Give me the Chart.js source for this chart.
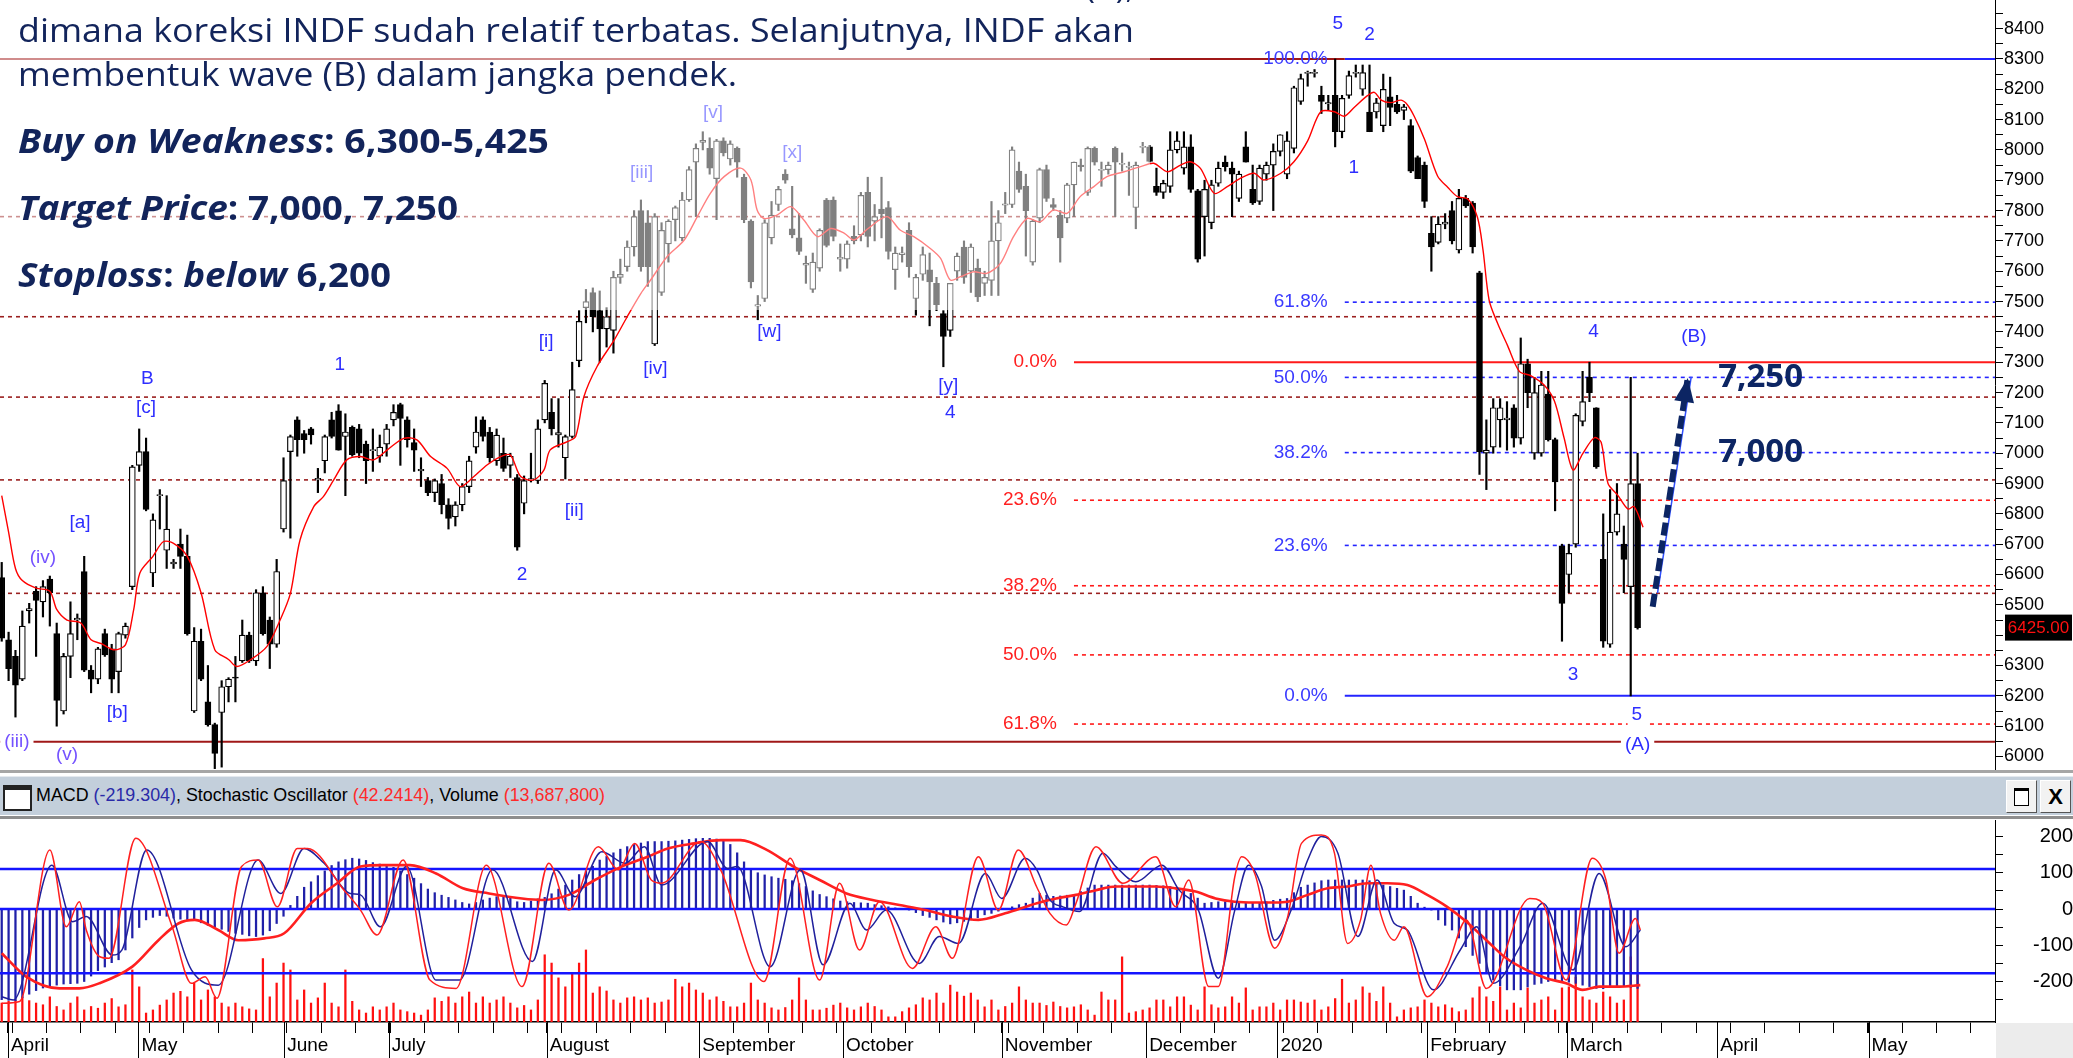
<!DOCTYPE html>
<html lang="id">
<head>
<meta charset="utf-8">
<title>INDF</title>
<script src="https://cdn.jsdelivr.net/npm/chart.js@4.4.1/dist/chart.umd.min.js"></script>
<style>
  html, body { margin: 0; padding: 0; background: #fff; }
  #wrap { position: relative; width: 2073px; height: 1058px; overflow: hidden; background: #fff; }
  canvas { position: absolute; left: 0; }
  #price { top: 0; }
  #osc { top: 820px; }
  .sep1 { position: absolute; left: 0; top: 770px; width: 2073px; height: 3px; background: #a6a6a6; }
  .bar { position: absolute; left: 0; top: 776px; width: 2073px; height: 38px; background: #c3cfdb; border-top: 1px solid #e4e9ef; }
  .sep2 { position: absolute; left: 0; top: 816px; width: 2073px; height: 3px; background: #8e8e8e; }
  .bar .ico { position: absolute; left: 3px; top: 8px; width: 25px; height: 19px; background: #fff; border: 2px solid #222; border-top-width: 5px; }
  .bar .txt { position: absolute; left: 36px; top: 6px; font: 19px "Liberation Sans", Arial, sans-serif; line-height: 24px; color: #000; white-space: nowrap; transform-origin: 0 0; }
  .bar .btn { position: absolute; top: 3px; width: 29px; height: 31px; background: #f2f2f2; border: 1px solid #fff; border-right-color: #555; border-bottom-color: #555; }
  .bar .b1 { left: 2006px; }
  .bar .b2 { left: 2040px; font: bold 22px "Liberation Sans", Arial, sans-serif; text-align: center; line-height: 31px; color: #000; }
  .bar .b1 i { position: absolute; left: 7px; top: 7px; width: 13px; height: 14px; border: 1.5px solid #000; border-top-width: 3px; background: #fff; }
  .corner { position: absolute; left: 1996px; top: 1023px; width: 77px; height: 35px; background: #ececec; }
  .note { position: absolute; left: 18px; white-space: nowrap; transform-origin: 0 0; color: #12245b; font-family: "Open Sans", sans-serif; }
  .reg { font-size: 33px; line-height: 33px; }
  .bold { font-size: 34px; line-height: 34px; font-weight: 700; }
</style>
</head>
<body>
<div id="wrap">
  <canvas id="price" width="2073" height="770"></canvas>
  <div class="sep1"></div>
  <div class="bar">
    <div class="ico"></div>
    <div class="txt" data-w="569">MACD <span style="color:#2a2aa8">(-219.304)</span>, Stochastic Oscillator <span style="color:#ff2a2a">(42.2414)</span>, Volume <span style="color:#ff2a2a">(13,687,800)</span></div>
    <div class="btn b1"><i></i></div>
    <div class="btn b2">X</div>
  </div>
  <div class="sep2"></div>
  <canvas id="osc" width="2073" height="238"></canvas>
  <div class="corner"></div>

  <div class="note reg" data-right="1134" style="top:-31px">(A),</div>
  <div class="note reg" data-w="1116" style="top:13px">dimana koreksi INDF sudah relatif terbatas. Selanjutnya, INDF akan</div>
  <div class="note reg" data-w="719" style="top:57px">membentuk wave (B) dalam jangka pendek.</div>
  <div class="note bold" data-w="531" style="top:123px"><i>Buy on Weakness</i>: 6,300-5,425</div>
  <div class="note bold" data-w="440" style="top:190px"><i>Target Price</i>: 7,000, 7,250</div>
  <div class="note bold" data-w="373" style="top:257px"><i>Stoploss</i>: <i>below</i> 6,200</div>
</div>

<script>
// ---- price data (one entry per trading day, Apr 2019 - Mar 2020) ----
const open = [
  6590,6385,6330,6255,6480,6545,6510,6585,6405,6150, 6330,6450,6610,6285,6255,6405,6355,6280,6400,6560,
  6960,7005,6605,6860,6680,6635,6700,6660,6150,6380, 6180,6105,6145,6230,6262,6315,6400,6315,6540,6450,
  6370,6750,7005,7110,7065,7080,6912,6975,7110,7140, 7055,7085,7080,7030,7008,6990,7030,7110,7160,7110,
  7035,6942,6910,6870,6900,6830,6790,6830,6890,7020, 7110,7070,6975,7000,6960,6920,6835,6910,6910,7110,
  7135,7060,6985,7055,7305,7480,7530,7470,7410,7405, 7580,7615,7680,7800,7760,7360,7530,7690,7770,7710,
  7835,7960,8025,8005,7905,8030,7970,8005,7910,7765, 7485,7510,7710,7820,7920,7740,7710,7620,7540,7610,
  7835,7835,7640,7640,7715,7720,7860,7765,7805,7810, 7605,7655,7735,7510,7590,7605,7560,7460,7405,7600,
  7680,7600,7610,7560,7570,7700,7818,7820,7930,7880, 7630,7775,7935,7820,7785,7775,7885,7950,7860,8005,
  7932,7935,8005,7952,7942,7810,8008,8010,7880,7860, 7880,8000,7940,8010,7865,7780,7760,7890,7960,7940,
  7840,8010,7870,7830,7920,7950,7995,7920,8005,8160, 8252,8252,8180,8152,8180,8060,8180,8252,8200,8125,
  8125,8080,8175,8150,8130,8080,7975,7950,7725,7695, 7755,7800,7670,7840,7825,7595,7000,7020,7110,7110,
  7150,7050,7295,7000,7000,7195,7045,6695,6600,6700, 7105,7250,7150,6650,6370,6740,6700,6560,6900
];
const high = [
  6640,6410,6350,6480,6505,6560,6580,6595,6440,6340, 6510,6470,6660,6300,6360,6420,6370,6410,6440,6960,
  7080,7050,6800,6880,6860,6650,6750,6730,6425,6420, 6300,6110,6250,6260,6330,6450,6410,6550,6560,6460,
  6650,6985,7060,7120,7075,7085,6950,7060,7135,7160, 7130,7090,7095,7040,7080,7060,7095,7160,7165,7120,
  7080,6985,6920,6915,6930,6850,6840,6900,6990,7120, 7120,7085,7080,7050,7000,6930,6925,7000,7110,7240,
  7180,7180,7060,7300,7470,7540,7545,7535,7480,7600, 7640,7700,7800,7835,7800,7790,7760,7770,7815,7860,
  7945,8020,8060,8040,8035,8040,8030,8010,7920,7770, 7520,7770,7830,7880,7935,7880,7790,7650,7660,7740,
  7840,7845,7690,7700,7750,7860,7910,7820,7910,7830, 7680,7680,7760,7590,7680,7660,7580,7470,7560,7660,
  7700,7690,7640,7600,7830,7800,7860,8010,7960,7920, 7770,7940,7950,7840,7800,7890,7960,7970,8010,8010,
  7960,7960,8010,7990,7960,7960,8025,8015,7940,7900, 8060,8060,8060,8050,7870,7900,7900,7960,7980,7960,
  7930,8060,7950,7950,7960,8020,8050,8060,8210,8250, 8260,8265,8210,8180,8300,8180,8260,8280,8280,8280,
  8170,8250,8240,8180,8150,8100,7980,7960,7780,7780, 7790,7830,7870,7850,7830,7600,7110,7180,7180,7170,
  7160,7380,7310,7250,7270,7270,7050,6700,6700,7130, 7270,7300,7150,6800,6880,6900,6760,7250,7000
];
const low = [
  6380,6250,6130,6250,6440,6330,6460,6430,6100,6140, 6260,6385,6280,6210,6240,6330,6210,6210,6390,6550,
  6940,6810,6560,6750,6620,6620,6620,6400,6145,6250, 6100,5960,5965,6180,6180,6310,6310,6300,6400,6290,
  6360,6740,6720,6990,7000,7030,6870,6935,7050,7010, 6860,6990,6985,6900,6940,6970,6990,7090,6960,7020,
  6940,6890,6860,6840,6800,6750,6760,6810,6870,7000, 7040,6970,6960,6940,6920,6680,6800,6905,6900,7100,
  7060,7020,6915,7050,7285,7430,7400,7300,7350,7330, 7560,7600,7650,7600,7550,7355,7520,7630,7700,7700,
  7830,7780,8000,7920,7770,7980,7950,7910,7760,7545, 7440,7500,7690,7800,7890,7710,7655,7560,7530,7600,
  7680,7700,7600,7610,7690,7700,7680,7700,7710,7640, 7540,7630,7580,7455,7570,7420,7470,7285,7385,7570,
  7560,7530,7500,7520,7520,7520,7790,7810,7860,7650, 7620,7760,7830,7800,7630,7760,7780,7930,7850,7950,
  7880,7920,7780,7930,7850,7740,7990,7960,7850,7840, 7860,7990,7920,7860,7630,7650,7740,7880,7930,7780,
  7830,7960,7820,7820,7900,7800,7980,7905,7990,8150, 8210,8240,8120,8130,8010,8040,8170,8240,8180,8060,
  8105,8060,8080,8120,8100,7925,7905,7810,7600,7690, 7740,7690,7660,7810,7660,6930,6880,7000,7020,7010,
  7020,7030,7150,6980,6990,7040,6810,6380,6540,6690, 7090,7170,6950,6360,6360,6730,6540,6200,6420
];
const close = [
  6390,6290,6235,6430,6488,6515,6560,6540,6185,6330, 6405,6456,6285,6255,6355,6335,6255,6405,6430,6955,
  7005,6815,6780,6864,6750,6641,6660,6405,6380,6255, 6105,6010,6230,6255,6258,6400,6315,6540,6405,6370,
  6610,6910,7055,7045,7045,7060,6917,7055,7055,7010, 7070,6995,7000,6975,7012,7020,7080,7135,7115,7045,
  7010,6947,6870,6910,6830,6785,6830,6890,6975,7070, 7055,6985,7060,6950,6990,6690,6910,6916,7080,7230,
  7080,7068,7055,7210,7435,7500,7450,7410,7450,7580, 7590,7680,7780,7615,7615,7780,7735,7765,7810,7835,
  7935,8005,8032,7940,8030,7990,8020,7960,7770,7565, 7490,7760,7785,7870,7900,7720,7665,7626,7630,7735,
  7685,7715,7646,7690,7700,7850,7715,7780,7790,7665, 7660,7661,7615,7580,7655,7565,7490,7385,7560,7650,
  7580,7680,7515,7580,7700,7760,7822,8000,7870,7800, 7765,7935,7840,7810,7710,7885,7960,7945,8005,7960,
  7936,7950,7960,7956,7946,7950,8012,7962,7860,7890, 8000,8030,8010,7870,7640,7870,7885,7940,7945,7920,
  7920,7960,7825,7940,7950,7995,8050,8030,8205,8235, 8256,8256,8160,8156,8060,8170,8245,8256,8255,8060,
  8155,8200,8140,8125,8142,7930,7905,7830,7680,7755, 7762,7700,7840,7815,7680,7005,7010,7150,7150,7116,
  7050,7295,7200,7200,7225,7045,6905,6505,6670,7125, 7170,7200,6955,6380,6740,6800,6650,6900,6425
];

// red moving average, read as knots (trading-day index, price)
const maIdx = [0,1,2,3,5,7,8,9.5,11.5,13, 14.5,16.3,18,19.2,20.1,22,23.5,25,27,29,
  31,33,34.2,36.2,38.6,40.5,42,43.4,45.4,46.8, 48.3,50.2,52.2,54.1,56.1,58.5,60.4,62.4,64.8,66.7,
  68.7,70.6,72.6,74,75.5,77.4,78.9,79.8,82.3,83.5, 84.7,86.6,89.1,91,93,94.4,96.8,99.3,101.2,103.1,
  105.1,107.5,109,109.9,110.9,112.8,114.8,116.7,118.7,120.6, 122.6,124,126,128.8,130.7,132.7,135.1,136.6,138,139.5,
  141.4,143.3,145.3,147.2,149.2,151.1,153,155,156.9,158.9, 160.8,163.3,165.7,167.6,169.6,171.5,172.9,174.4,176.4,178.3,
  180.2,182.2,183.6,186.1,188,190,191.9,193.9,195.3,196.8, 198.7,199.7,200.7,202.1,203.6,204.5,205.5,207,208.9,210.4,
  211.8,213.3,214.7,215.5,216.4,217.6,219.1,220.8,222.5,224.4, 225.9,227.3,228.6,230,231.7,232.7,233.7,235.1,236.6,237.5,238.8];
const maVal = [6860,6740,6620,6580,6555,6545,6485,6450,6440,6385, 6372,6352,6368,6484,6605,6660,6708,6703,6660,6540,
  6352,6320,6297,6319,6363,6450,6538,6714,6824,6857, 6912,6978,6989,6978,7011,7049,7044,6989,6950,6890,
  6923,6961,6989,6994,6923,6912,6945,7011,7038,7055, 7186,7285,7373,7450,7527,7571,7648,7703,7780,7857,
  7912,7940,7901,7802,7774,7785,7813,7769,7714,7741, 7725,7703,7740,7780,7736,7714,7675,7642,7571,7582,
  7598,7593,7626,7714,7774,7763,7802,7791,7846,7879, 7912,7928,7945,7956,7928,7950,7961,7939,7857,7879,
  7906,7923,7901,7923,7961,8030,8126,8126,8111,8141, 8179,8190,8164,8156,8164,8149,8111,8035,7914,7876,
  7846,7838,7778,7672,7505,7430,7354,7270,7255,7225, 7172,7051,6945,6998,7051,7036,6900,6862,6816,6824,6756];

// horizontal levels (price)
const brownLevels = [7780, 7450, 7185, 6912, 6538];
const blueFibLevels = [8300, 7498, 7250, 7002, 6696, 6200];
const blueFibNames = ['100.0%', '61.8%', '50.0%', '38.2%', '23.6%', '0.0%'];
const redFibLevels = [7300, 6845, 6563, 6335, 6107];
const redFibNames = ['0.0%', '23.6%', '38.2%', '50.0%', '61.8%'];
const baseLevel = 6049;
const lastPrice = 6425;
const targetLevels = [7250, 7002];
const targetNames = ['7,250', '7,000'];
const priceTicks = [6000,6100,6200,6300,6400,6500,6600,6700,6800,6900,7000,7100,7200,7300,7400,7500,7600,7700,7800,7900,8000,8100,8200,8300,8400];

// lower panel
const volume = [
  5.5,6.0,6.4,7.3,6.2,5.5,5.0,7.3,4.5,3.5, 5.5,7.3,3.5,4.5,4.0,5.5,6.8,4.4,5.0,15.1,
  10.2,2.6,3.5,4.9,6.4,8.4,8.9,7.3,11.3,6.4, 9.3,7.3,5.5,4.4,5.5,4.4,3.8,3.5,18.4,7.3,
  11.3,17.1,15.1,6.4,9.3,5.5,7.0,11.3,5.5,4.4, 15.1,6.0,3.5,2.6,4.4,3.5,4.4,5.5,3.5,3.0,
  2.6,2.0,3.5,7.0,6.0,7.3,5.5,7.3,8.7,5.5, 7.3,5.5,6.4,7.3,5.5,4.1,4.8,3.5,6.4,19.5,
  17.1,12.8,10.2,14.2,17.1,20.9,8.4,10.2,9.0,6.4, 5.5,7.0,7.3,6.4,7.0,5.5,5.8,6.4,12.4,10.2,
  11.3,9.3,8.4,6.4,7.3,6.0,4.4,4.4,5.5,11.3, 6.4,5.5,4.1,3.5,4.2,6.4,12.8,6.4,3.5,3.5,
  4.0,4.9,5.5,4.1,3.5,4.4,5.5,4.5,3.5,1.5, 1.5,3.0,4.1,5.0,7.0,6.4,8.4,5.5,10.7,8.7,
  7.5,8.4,6.4,4.4,6.4,3.5,4.5,5.5,10.2,6.4, 5.5,5.5,4.8,5.8,4.5,4.1,4.4,5.0,3.5,2.0,
  8.7,6.4,6.4,18.9,2.6,3.0,3.5,4.1,6.4,6.4, 4.4,7.3,7.3,4.9,3.5,10.2,5.0,4.1,4.4,7.3,
  5.5,9.9,3.5,4.4,4.4,5.5,3.5,6.4,6.4,5.8, 5.5,6.4,3.5,4.4,6.8,12.4,5.5,6.4,10.2,8.4,
  6.0,10.2,5.5,1.5,3.5,4.1,4.4,6.4,5.5,4.4, 5.0,4.1,3.0,3.5,7.0,10.2,7.3,6.0,10.2,3.5,
  5.5,4.1,9.9,5.5,6.4,7.3,3.5,9.9,10.2,13.0, 7.3,6.4,5.5,8.7,7.3,5.5,6.4,18.9,13.7
];
const macd = [
  -250,-252,-253,-245,-235,-225,-218,-214,-210,-207, -206,-205,-200,-185,-170,-160,-148,-140,-113,-80,
  -51,-30,-23,-18,-20,-25,-28,-30,-32,-38, -45,-50,-56,-62,-67,-70,-74,-76,-72,-60,
  -40,-20,10,35,60,75,92,105,120,130, 136,140,138,134,128,124,120,115,105,95,
  85,70,55,45,38,32,25,18,14,18, 25,30,34,36,30,20,18,22,28,32,
  42,55,66,80,95,105,118,135,145,155, 165,172,178,182,186,186,186,187,188,190,
  192,194,195,195,193,190,178,155,130,108, 100,94,89,85,82,78,70,62,50,40,
  34,28,22,20,18,17,16,12,9,6, 3,0,-3,-10,-18,-23,-30,-36,-41,-38,
  -34,-30,-24,-16,-12,-6,0,6,12,16, 30,43,38,35,36,38,39,48,58,66,
  66,66,66,66,66,66,66,66,65,64, 62,58,52,43,30,16,18,20,20,18,
  17,16,17,18,20,24,27,29,45,60, 66,72,78,80,80,80,80,80,80,78,
  72,66,62,57,52,35,16,5,-3,-30, -45,-58,-80,-104,-128,-150,-175,-196,-212,-223,
  -223,-223,-215,-208,-205,-200,-196,-198,-202,-205, -210,-214,-219,-220,-216,-214,-214,-216,-219
];
const sigIdx = [0,3.6,8.4,11.3,14.2,19,22.8,25.7,28.1,31.5, 34.4,38.2,41.1,45,48.8,52.2,55.5,59.4,63.2,67.1,
  70.9,75.7,78.6,82.5,86.3,90.2,94,96.9,100.8,104.6, 107.5,111.3,115.2,119,122.9,126.7,130.6,134.4,138.3,142.1,
  146,150.6,153.4,156.3,159.2,162.1,165,167.9,170.8,173.7, 176.6,179.4,182.3,185.2,187.1,190,192.9,195.8,198.7,201.6,
  204.5,207.4,210.3,213.1,216,218.9,221.8,224.7,227.6,230, 232.4,235.3,238.4];
const sigVal = [-122,-187,-219,-219,-205,-159,-86,-40,-30,-58, -86,-81,-67,16,71,117,121,121,98,57,
  43,29,25,39,80,117,144,167,181,190, 190,163,117,80,43,25,11,-3,-21,-30,
  -12,16,29,39,52,62,62,62,57,48, 29,20,18,18,20,39,57,62,71,71,
  66,39,6,-35,-86,-136,-168,-191,-205,-223, -214,-214,-210];
const kIdx = [0,2.6,7,9.4,11.3,12.3,14.2,15.6,19.5,24.8, 27.6,29.6,31.3,34.9,37.3,40.1,43,44.5,49.8,52.2,
  54.6,58.4,62.3,66.1,70.5,75.7,79.6,82.5,86.8,89.7, 92.1,94.5,96,101.7,104.6,110.9,114.7,119,121.9,124.8,
  127.7,132.5,135.9,138.3,142.1,145,147.9,150.6,152.5,154.9, 156.3,159.2,163.1,167.9,170.8,172.7,175.6,177,179.4,180.4,
  182.3,185.2,187.1,189.1,192,193.9,195.8,197.7,199.2,200.6, 202.6,204,207.4,210.3,213.1,216,222.3,224.2,227.6,231.4,
  233.4,235.3,237.7,238.4];
const kVal = [-260,-255,163,-49,20,-58,-131,-136,195,-49, -205,-187,-246,117,135,6,167,167,52,-3,
  -72,135,-196,-219,121,-214,126,-3,172,108, 181,80,71,186,108,-200,140,-196,71,-113,
  20,-164,-49,-136,144,-3,163,60,-12,-44, 16,172,71,144,6,80,-214,-214,89,144,
  98,-108,-21,181,204,154,-95,-30,121,-12, -86,-49,-242,-159,-30,-219,29,16,-196,140,
  80,-122,-26,-58];
const dIdx = [0,1.7,7.3,10.3,12.3,16.1,17.5,21.1,27.6,31.5, 37.3,40.6,44,46.9,50.7,52.2,55.1,58.9,63.2,66.6,
  71.4,77.2,80.6,83.4,87.3,90.7,93.5,96,102.7,105.6, 107,111.8,116.2,119.5,123.4,125.8,128.7,133.5,136.4,139.2,
  143.1,145.5,148.9,150.6,152.5,154.4,156.8,160.2,162.1,165, 168.8,171.3,174.1,177,179.4,181.4,183.3,185.2,187.6,190,
  192,194.4,197.3,200.1,202.6,204.5,208.3,212.2,214.6,217, 220.9,224.2,228.6,232.4,236.3,238.4];
const dVal = [-242,-251,121,-35,-21,-127,-113,163,-168,-210, 135,43,167,126,43,39,-49,117,-196,-196,
  108,-145,108,34,158,126,172,66,186,112, 117,-159,108,-154,16,-58,-3,-150,-76,-95,
  98,29,140,108,25,6,-7,154,117,75, 121,52,-3,-191,-3,121,62,-86,-3,135,
  200,154,-76,80,-40,-58,-223,-113,-49,-205, -104,16,-168,98,-104,-58];
const oscLevels = [110, 0, -177];
const oscTicks = [-200, -100, 0, 100, 200];

// time axis
const monthNames = ['April','May','June','July','August','September','October','November','December','2020','February','March','April','May'];
const monthPos = [0.9, 19.9, 41.1, 56.3, 79.3, 101.5, 122.4, 145.5, 166.5, 185.6, 207.4, 227.7, 249.6, 271.6];

// wave / count labels placed at (trading-day index, price)
const BLUE = '#2e2eff', PURPLE = '#7452ff', RED = '#ff2020', NAVY = '#0c2563';
const waveLabels = [
  {t:'(iii)', x:2.2, y:6048, c:PURPLE, bg:true}, {t:'(v)', x:9.5, y:6005, c:PURPLE}, {t:'(iv)', x:6, y:6654, c:PURPLE},
  {t:'[a]', x:11.4, y:6770, c:BLUE}, {t:'[b]', x:16.8, y:6144, c:BLUE}, {t:'B', x:21.2, y:7245, c:BLUE},
  {t:'[c]', x:21.0, y:7149, c:BLUE}, {t:'1', x:49.2, y:7291, c:BLUE}, {t:'[i]', x:79.2, y:7367, c:BLUE},
  {t:'[ii]', x:83.3, y:6810, c:BLUE}, {t:'2', x:75.7, y:6599, c:BLUE}, {t:'[iii]', x:93.1, y:7924, c:BLUE},
  {t:'[iv]', x:95.1, y:7278, c:BLUE}, {t:'[v]', x:103.5, y:8122, c:BLUE}, {t:'[w]', x:111.7, y:7400, c:BLUE},
  {t:'[x]', x:115.0, y:7990, c:BLUE}, {t:'[y]', x:137.7, y:7222, c:BLUE}, {t:'4', x:138.0, y:7133, c:BLUE},
  {t:'5', x:194.4, y:8415, c:BLUE}, {t:'2', x:199.0, y:8379, c:BLUE}, {t:'1', x:196.7, y:7940, c:BLUE},
  {t:'4', x:231.6, y:7400, c:BLUE}, {t:'(B)', x:246.2, y:7383, c:BLUE}, {t:'3', x:228.6, y:6269, c:BLUE},
  {t:'5', x:237.9, y:6137, c:BLUE, bg:true}, {t:'(A)', x:238.0, y:6038, c:BLUE, bg:true}
];
const arrowPath = [{x:240.2, y:6494}, {x:245.3, y:7248}];
const trendPath = [{x:240.9, y:6539}, {x:245.8, y:7252}];

// ---- layout constants ----
const xMin = -0.25, xMax = 290;
const blueFrom = 195.4, redFrom = 156.0, blueLabelAt = 192.9, redLabelAt = 153.5, targetAt = 255.9;
const AXIS_W = 78;

Chart.defaults.font.family = '"Liberation Sans", Arial, sans-serif';
Chart.defaults.color = '#000';

function hline(v, x0, x1, color, width, dash, order) {
  return { type: 'line', data: [{x: x0, y: v}, {x: x1, y: v}], borderColor: color, borderWidth: width,
           borderDash: dash || [], pointRadius: 0, order: order || 10 };
}

function buildPrice() {
  const idx = open.map((_, i) => i);
  const bodies = idx.map(i => ({x: i, y: [open[i], close[i]]}));
  const wicks = idx.map(i => ({x: i, y: [low[i], high[i]]}));
  const up = idx.map(i => close[i] >= open[i]);

  const levels = [];
  levels.push(hline(blueFibLevels[0], xMin, blueFrom, '#a01818', 2));
  brownLevels.forEach(v => levels.push(hline(v, xMin, xMax, '#9b2020', 1.6, [4, 4])));
  blueFibLevels.forEach((v, k) => {
    const solid = k === 0 || k === blueFibLevels.length - 1;
    levels.push(hline(v, blueFrom, xMax, '#2424ff', solid ? 2 : 1.6, solid ? [] : [4, 4]));
  });
  redFibLevels.forEach((v, k) => levels.push(hline(v, redFrom, xMax, '#ff1a1a', k === 0 ? 2 : 1.6, k === 0 ? [] : [4, 4])));
  levels.push(hline(baseLevel, xMin, xMax, '#a01818', 2));

  const annot = {
    id: 'annot',
    afterDatasetsDraw(chart) {
      const {ctx} = chart, xs = chart.scales.x, ys = chart.scales.y;
      ctx.save();
      ctx.textBaseline = 'middle';
      ctx.font = '19px "Liberation Sans", Arial, sans-serif';
      ctx.textAlign = 'right';
      ctx.fillStyle = '#3a3aff';
      blueFibLevels.forEach((v, k) => ctx.fillText(blueFibNames[k], xs.getPixelForValue(blueLabelAt), ys.getPixelForValue(v)));
      ctx.fillStyle = RED;
      redFibLevels.forEach((v, k) => ctx.fillText(redFibNames[k], xs.getPixelForValue(redLabelAt), ys.getPixelForValue(v)));

      ctx.textAlign = 'center';
      waveLabels.forEach(l => {
        const px = xs.getPixelForValue(l.x), py = ys.getPixelForValue(l.y);
        if (l.bg) {
          const w = ctx.measureText(l.t).width + 8;
          ctx.fillStyle = '#fff';
          ctx.fillRect(px - w / 2, py - 11, w, 22);
        }
        ctx.fillStyle = l.c;
        ctx.fillText(l.t, px, py);
      });

      // arrow head
      const a = {x: xs.getPixelForValue(arrowPath[0].x), y: ys.getPixelForValue(arrowPath[0].y)};
      const b = {x: xs.getPixelForValue(arrowPath[1].x), y: ys.getPixelForValue(arrowPath[1].y)};
      const len = Math.hypot(b.x - a.x, b.y - a.y), ux = (b.x - a.x) / len, uy = (b.y - a.y) / len;
      ctx.fillStyle = NAVY;
      ctx.beginPath();
      ctx.moveTo(b.x, b.y);
      ctx.lineTo(b.x - ux * 24 - uy * 10, b.y - uy * 24 + ux * 10);
      ctx.lineTo(b.x - ux * 24 + uy * 10, b.y - uy * 24 - ux * 10);
      ctx.closePath();
      ctx.fill();

      ctx.font = 'bold 33px "Open Sans", sans-serif';
      ctx.fillStyle = NAVY;
      targetLevels.forEach((v, k) => ctx.fillText(targetNames[k], xs.getPixelForValue(targetAt), ys.getPixelForValue(v)));
      ctx.restore();
    },
    afterDraw(chart) {
      const {ctx} = chart, ys = chart.scales.y;
      ctx.save();
      // translucent text box of the original report
      ctx.fillStyle = 'rgba(255,255,255,0.5)';
      ctx.fillRect(0, 0, 1150, 310);
      // last price tag
      const py = ys.getPixelForValue(lastPrice);
      ctx.fillStyle = '#000';
      ctx.fillRect(2005, py - 13, 67, 26);
      ctx.fillStyle = '#ff1010';
      ctx.font = '17px "Liberation Sans", Arial, sans-serif';
      ctx.textAlign = 'center';
      ctx.textBaseline = 'middle';
      ctx.fillText(lastPrice.toFixed(2), 2038.5, py + 1);
      ctx.restore();
    }
  };

  new Chart(document.getElementById('price'), {
    type: 'bar',
    data: {
      datasets: [
        ...levels,
        { type: 'bar', data: wicks, backgroundColor: '#000', barThickness: 1.5, grouped: false, order: 6 },
        { type: 'bar', data: bodies, grouped: false, order: 5, barThickness: 6, borderWidth: 1.2, borderSkipped: false,
          borderColor: '#000', backgroundColor: ctx => (up[ctx.dataIndex] ? '#fff' : '#000') },
        { type: 'line', data: maIdx.map((x, k) => ({x, y: maVal[k]})), borderColor: '#ff0000', borderWidth: 1.4,
          pointRadius: 0, tension: 0.3, order: 3 },
        { type: 'line', data: trendPath, borderColor: '#3050ff', borderWidth: 1.5, pointRadius: 0, order: 2 },
        { type: 'line', data: arrowPath, borderColor: NAVY, borderWidth: 6, borderDash: [13, 5], pointRadius: 0, order: 1 }
      ]
    },
    options: {
      responsive: false, animation: false, devicePixelRatio: 1, events: [],
      layout: { padding: 0 },
      plugins: { legend: { display: false }, tooltip: { enabled: false } },
      scales: {
        x: { type: 'linear', min: xMin, max: xMax, display: false, offset: false, grid: { offset: false } },
        y: {
          type: 'linear', position: 'right', min: 5955.5, max: 8494.3,
          afterBuildTicks: ax => {
            const t = [];
            priceTicks.forEach(v => { t.push({value: v}); t.push({value: v + 50}); });
            ax.ticks = t;
          },
          afterFit: ax => { ax.width = AXIS_W; ax.paddingTop = 0; ax.paddingBottom = 0; },
          ticks: { autoSkip: false, padding: 1, font: { size: 18 }, color: '#000',
                   callback: v => (v % 100 === 0 ? String(v) : '') },
          grid: { drawOnChartArea: false, tickLength: 8, tickColor: '#000' },
          border: { color: '#000', width: 1 }
        }
      }
    },
    plugins: [annot]
  });
}

function buildOsc() {
  const idx = macd.map((_, i) => i);
  const months = {
    id: 'months',
    afterDraw(chart) {
      const {ctx, chartArea} = chart, xs = chart.scales.x;
      ctx.save();
      ctx.strokeStyle = '#000';
      ctx.lineWidth = 1;
      monthPos.forEach(p => {
        const x = Math.round(xs.getPixelForValue(p)) + 0.5;
        ctx.beginPath();
        ctx.moveTo(x, chartArea.bottom);
        ctx.lineTo(x, chart.height);
        ctx.stroke();
      });
      ctx.restore();
    }
  };

  new Chart(document.getElementById('osc'), {
    type: 'bar',
    data: {
      datasets: [
        { type: 'bar', yAxisID: 'yv', data: idx.map(i => ({x: i, y: volume[i]})), backgroundColor: '#ff1010',
          barThickness: 1.6, grouped: false, order: 9 },
        { type: 'bar', yAxisID: 'y', data: idx.map(i => ({x: i, y: macd[i]})), backgroundColor: '#2020a8',
          barThickness: 1.6, grouped: false, order: 8 },
        ...oscLevels.map(v => hline(v, xMin, xMax, '#1414ff', 2.5, [], 7)),
        { type: 'line', data: sigIdx.map((x, k) => ({x, y: sigVal[k]})), borderColor: '#ff2020', borderWidth: 2.6,
          pointRadius: 0, cubicInterpolationMode: 'monotone', order: 4 },
        { type: 'line', data: dIdx.map((x, k) => ({x, y: dVal[k]})), borderColor: '#20209c', borderWidth: 1.5,
          pointRadius: 0, cubicInterpolationMode: 'monotone', order: 3 },
        { type: 'line', data: kIdx.map((x, k) => ({x, y: kVal[k]})), borderColor: '#ff2020', borderWidth: 1.5,
          pointRadius: 0, cubicInterpolationMode: 'monotone', order: 2 }
      ]
    },
    options: {
      responsive: false, animation: false, devicePixelRatio: 1, events: [],
      layout: { padding: 0 },
      plugins: { legend: { display: false }, tooltip: { enabled: false } },
      scales: {
        x: {
          type: 'linear', position: 'bottom', min: xMin, max: xMax, offset: false,
          afterBuildTicks: ax => {
            const t = monthPos.slice();
            for (let v = 1.5; v < xMax; v += 5) {
              if (!monthPos.some(p => Math.abs(p - v) < 0.01)) t.push(v);
            }
            t.sort((a, b) => a - b);
            ax.ticks = t.map(v => ({value: v}));
          },
          afterFit: ax => { ax.height = 36; ax.paddingLeft = 0; ax.paddingRight = 0; },
          ticks: { autoSkip: false, maxRotation: 0, minRotation: 0, align: 'start', labelOffset: 3, padding: 1,
                   font: { size: 19 }, color: '#000',
                   callback: v => { const k = monthPos.indexOf(v); return k >= 0 ? monthNames[k] : ''; } },
          grid: { drawOnChartArea: false, tickLength: 11, tickColor: '#000', offset: false },
          border: { color: '#000', width: 1.5 }
        },
        y: {
          type: 'linear', position: 'right', min: -311.7, max: 245.5,
          afterBuildTicks: ax => {
            const t = [];
            oscTicks.forEach(v => { t.push({value: v}); t.push({value: v - 50}); });
            t.push({value: 250});
            ax.ticks = t.filter(o => o.value >= -311.7 && o.value <= 245.5);
          },
          afterFit: ax => { ax.width = AXIS_W; ax.paddingTop = 0; ax.paddingBottom = 0; },
          ticks: { autoSkip: false, crossAlign: 'far', padding: 25, font: { size: 20 }, color: '#000',
                   callback: v => (v % 100 === 0 ? String(v) : '') },
          grid: { drawOnChartArea: false, tickLength: 8, tickColor: '#000' },
          border: { color: '#000', width: 1 }
        },
        yv: { type: 'linear', display: false, min: 0, max: 58.6 }
      }
    },
    plugins: [months]
  });
}

function fitText() {
  document.querySelectorAll('.note, .bar .txt').forEach(el => {
    const w = el.getBoundingClientRect().width;
    if (el.dataset.w) el.style.transform = 'scaleX(' + (Number(el.dataset.w) / w) + ')';
    if (el.dataset.right) el.style.left = (Number(el.dataset.right) - w) + 'px';
  });
}

function draw() {
  fitText();
  buildPrice();
  buildOsc();
}
if (document.fonts && document.fonts.ready) {
  document.fonts.ready.then(draw);
} else {
  draw();
}
</script>
</body>
</html>
